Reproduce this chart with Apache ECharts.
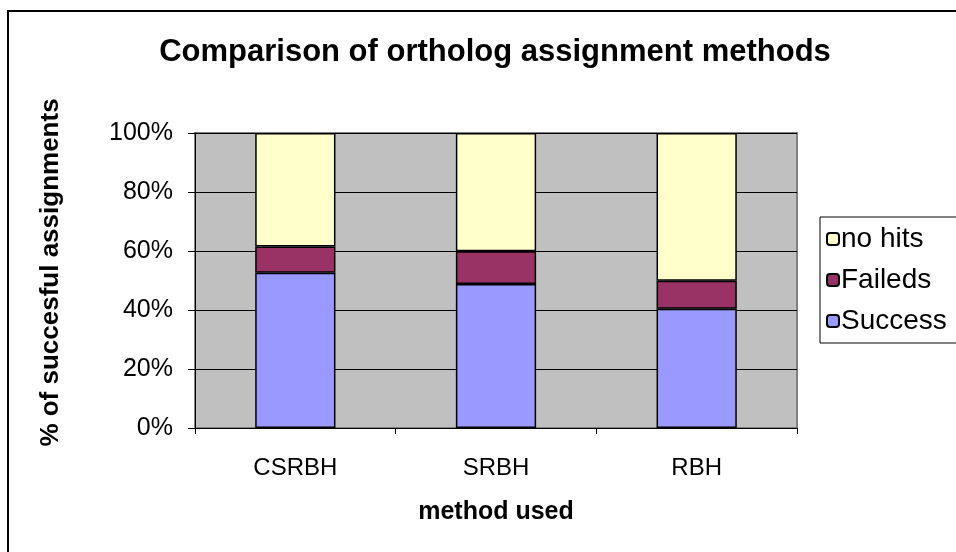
<!DOCTYPE html>
<html>
<head>
<meta charset="utf-8">
<title>Comparison of ortholog assignment methods</title>
<script src="https://cdn.jsdelivr.net/npm/echarts@6/dist/echarts.min.js"></script>
<style>
  html, body { margin: 0; padding: 0; background: #fff; }
  #chart { width: 956px; height: 552px; }
</style>
</head>
<body>
<div id="chart"></div>
<script>
var methods = ['CSRBH', 'SRBH', 'RBH'];
var success = [52.6, 48.8, 40.4];
var faileds = [8.9, 11.1, 9.5];
var noHits = [38.5, 40.1, 50.1];
var yTicks = [0, 20, 40, 60, 80, 100];

var chart = echarts.init(document.getElementById('chart'));
var font = 'Liberation Sans, Arial, sans-serif';

chart.setOption({
    animation: false,
    textStyle: { fontFamily: font },
    title: {
        text: 'Comparison of ortholog assignment methods',
        left: 490, top: 32, textAlign: 'center',
        textStyle: { fontSize: 31, fontWeight: 'bold', color: '#000', fontFamily: font }
    },
    graphic: [{
        type: 'rect', silent: true,
        shape: { x: 8, y: 11, width: 960, height: 560 },
        style: { fill: 'none', stroke: '#000', lineWidth: 2 }
    }],
    grid: {
        left: 195, right: 159, top: 133, bottom: 124,
        show: true, backgroundColor: '#c0c0c0', borderColor: '#808080', borderWidth: 2
    },
    legend: {
        orient: 'vertical',
        left: 820, top: 217,
        data: ['no hits', 'Faileds', 'Success'],
        itemWidth: 12, itemHeight: 12, itemGap: 13,
        padding: [8, 40, 8, 6],
        backgroundColor: '#fff', borderColor: '#000', borderWidth: 1,
        textStyle: { fontSize: 28, color: '#000', fontFamily: font, padding: [0, 0, 0, -3] }
    },
    xAxis: {
        type: 'category',
        data: methods,
        name: 'method used',
        nameLocation: 'middle', nameGap: 72,
        nameTextStyle: { fontSize: 25, fontWeight: 'bold', color: '#000', fontFamily: font },
        axisLine: { lineStyle: { color: '#000', width: 1 } },
        axisTick: { show: true, length: 6, lineStyle: { color: '#000' } },
        axisLabel: { fontSize: 24, color: '#000', margin: 28 },
        splitLine: { show: false }
    },
    yAxis: {
        type: 'value',
        min: 0, max: 100, interval: 20,
        name: '% of succesful assignments',
        nameLocation: 'middle', nameGap: 131,
        nameTextStyle: { fontSize: 26, fontWeight: 'bold', color: '#000', fontFamily: font, padding: [0, 0, 0, 16] },
        axisLine: { show: true, lineStyle: { color: '#000', width: 1 } },
        axisTick: { show: true, length: 7, inside: false, lineStyle: { color: '#000' } },
        axisLabel: {
            fontSize: 25, color: '#000', margin: 22,
            formatter: function (v) { return yTicks.indexOf(v) >= 0 ? v + '%' : ''; }
        },
        splitLine: { show: true, lineStyle: { color: '#000', width: 1 } }
    },
    series: [
        {
            name: 'Success', type: 'bar', stack: 'all', data: success, barWidth: '40%',
            itemStyle: { color: '#9999ff', borderColor: '#000', borderWidth: 1.5 }
        },
        {
            name: 'Faileds', type: 'bar', stack: 'all', data: faileds,
            itemStyle: { color: '#993366', borderColor: '#000', borderWidth: 1.5 }
        },
        {
            name: 'no hits', type: 'bar', stack: 'all', data: noHits,
            itemStyle: { color: '#ffffcc', borderColor: '#000', borderWidth: 1.5 }
        }
    ]
});
</script>
</body>
</html>
